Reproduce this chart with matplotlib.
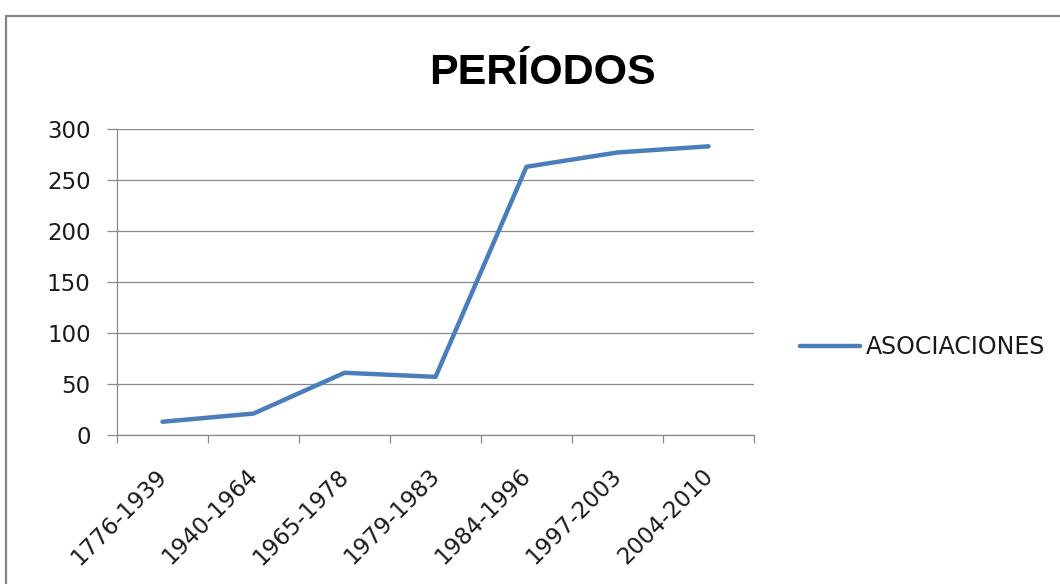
import matplotlib
matplotlib.use("Agg")
import matplotlib.pyplot as plt
import matplotlib.transforms as mtransforms
from matplotlib.patches import Rectangle

categories = ["1776-1939", "1940-1964", "1965-1978", "1979-1983",
              "1984-1996", "1997-2003", "2004-2010"]
asociaciones = [13, 21, 61, 57, 263, 277, 283]
series_name = "ASOCIACIONES"
title = "PERÍODOS"
yticks = [0, 50, 100, 150, 200, 250, 300]

W, H = 1060, 584
fig = plt.figure(figsize=(W / 100, H / 100), dpi=100)
fig.patch.set_facecolor("white")

# outer frame
fig.patches.append(Rectangle((6 / W, -0.05), 1.2, (H - 16) / H + 0.05,
                             transform=fig.transFigure, fill=False,
                             edgecolor="#868686", linewidth=1.6))

ax = fig.add_axes([117 / W, 1 - 435 / H, (754 - 117) / W, (435 - 129) / H])
x = list(range(len(categories)))
ax.plot(x, asociaciones, color="#4A7EBB", linewidth=3.2,
        solid_capstyle="round", solid_joinstyle="round", label=series_name)

ax.set_xlim(-0.5, len(categories) - 0.5)
ax.set_ylim(0, 300)
ax.set_yticks(yticks)
ax.set_yticklabels([str(v) for v in yticks])
ax.yaxis.grid(True, color="#898989", linewidth=0.9)
ax.set_axisbelow(True)

for s in ["top", "right"]:
    ax.spines[s].set_visible(False)
for s in ["left", "bottom"]:
    ax.spines[s].set_color("#898989")
    ax.spines[s].set_linewidth(0.9)

ax.set_xticks(x)
ax.set_xticklabels(categories, rotation=45, ha="right", va="center",
                   rotation_mode="anchor", fontsize=16.5, color="#1a1a1a")
ax.set_xticks([i - 0.5 for i in range(len(categories) + 1)], minor=True)
ax.tick_params(axis="x", which="major", length=0, pad=27)
ax.tick_params(axis="x", which="minor", length=6, width=0.9, color="#898989")
ax.tick_params(axis="y", length=7, width=0.9, color="#898989", pad=12,
               labelsize=16.5, labelcolor="#1a1a1a")

offset = mtransforms.ScaledTranslation(1 / 100, 0, fig.dpi_scale_trans)
for lbl in ax.get_xticklabels():
    lbl.set_transform(lbl.get_transform() + offset)

fig.text(542 / W, 1 - 84 / H, title, ha="center", va="baseline",
         fontsize=31, fontweight="bold", family="Liberation Sans",
         color="black")

fig.legend(loc="center left", bbox_to_anchor=(800 / W, 1 - 347 / H),
           frameon=False, fontsize=17, handlelength=2.55, handletextpad=0.22,
           borderpad=0, borderaxespad=0, labelcolor="#1a1a1a")

fig.savefig("out.png", dpi=100)
